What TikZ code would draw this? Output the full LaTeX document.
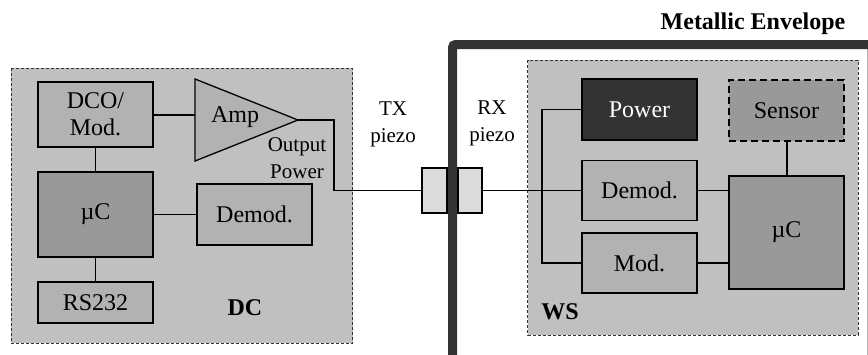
\documentclass[tikz,border=0pt]{standalone}
\usepackage{fontspec}
\setmainfont{Liberation Serif}
\definecolor{bggray}{HTML}{C0C0C0}
\definecolor{boxgray}{HTML}{B2B2B2}
\definecolor{ucgray}{HTML}{999999}
\definecolor{pwgray}{HTML}{333333}
\definecolor{pzgray}{HTML}{DCDCDC}
\tikzset{
  region/.style={draw=black!80, fill=bggray, line width=0.7pt, dash pattern=on 3pt off 2pt},
  blk/.style={draw=black, fill=boxgray, line width=1.3pt, inner sep=0pt, align=center,
    font=\fontsize{24}{27}\selectfont},
  ucblk/.style={blk, fill=ucgray},
  pwblk/.style={blk, fill=pwgray, text=white},
  snblk/.style={blk, fill=ucgray, dash pattern=on 7pt off 4pt},
  piezo/.style={draw=black, fill=pzgray, line width=1.3pt, minimum width=25pt, minimum height=45pt, inner sep=0pt},
  wire/.style={draw=black, line width=1.3pt},
  lbl/.style={font=\fontsize{21}{27}\selectfont, align=center, inner sep=0pt},
  boldlbl/.style={font=\fontsize{24}{27}\selectfont\bfseries, inner sep=0pt},
  envelope/.style={draw=pwgray, line width=9pt, rounded corners=3pt}
}
\begin{document}
\begin{tikzpicture}[x=1pt,y=-1pt]
\useasboundingbox (0,0) rectangle (868,354);
\clip (0,0) rectangle (868,354);
% metallic envelope
\draw[envelope] (452.5,360) -- (452.5,44.5) -- (872,44.5) -- (872,360);
\node[boldlbl] (envlbl) at (753,24) {Metallic Envelope};
% DC region
\path[region] (11,68.3) rectangle (352.7,343.3);
\node[boldlbl] (dclbl) at (245,308) {DC};
\node[blk, minimum width=115pt, minimum height=65pt] (dco) at (95.5,114.5) {DCO/\\Mod.};
\node[ucblk, minimum width=115pt, minimum height=85pt] (ucl) at (95.5,214.5) {µC};
\node[blk, minimum width=115pt, minimum height=41pt] (rs) at (95.5,302.5) {RS232};
\node[blk, minimum width=115pt, minimum height=61pt] (demodl) at (254.5,214.5) {Demod.};
\coordinate (ampin) at (195,115);
\coordinate (amptip) at (298,120);
\draw[blk] (195,79) -- (amptip) -- (195,161) -- cycle;
\node[blk, draw=none, fill=none] (amp) at (235,117) {Amp};
\node[lbl] (outp) at (297,158.5) {Output\\Power};
% DC wires
\draw[wire] (dco.east |- ampin) -- (ampin);
\draw[wire] (dco) -- (ucl);
\draw[wire] (ucl) -- (rs);
\draw[wire] (ucl) -- (demodl);
% piezos
\node[piezo] (tx) at (434.5,190.5) {};
\node[piezo, minimum width=24pt] (rx) at (470,190.5) {};
\node[lbl] (txl) at (393,124) {TX\\piezo};
\node[lbl] (rxl) at (492,123) {RX\\piezo};
\draw[wire] (amptip) -- (334,120) -- (334,190.5) -- (tx.west);
% WS region
\path[region] (527.7,60) rectangle (858,335);
\node[boldlbl] (wslbl) at (560,312) {WS};
\node[pwblk, minimum width=115pt, minimum height=61pt] (pw) at (639.5,109.5) {Power};
\node[snblk, minimum width=115pt, minimum height=61pt] (sn) at (786.5,110.5) {Sensor};
\node[blk, minimum width=115pt, minimum height=60pt] (demodr) at (639.5,190.5) {Demod.};
\node[blk, minimum width=115pt, minimum height=60pt] (mod) at (639.5,263) {Mod.};
\node[ucblk, minimum width=115pt, minimum height=113pt] (ucr) at (786.5,232.5) {µC};
\coordinate (bustop) at (542,109.5);
\coordinate (busbot) at (542,263);
\draw[wire] (rx.east) -- (demodr.west);
\draw[wire] (pw.west) -- (bustop) -- (busbot) -- (mod.west);
\draw[wire] (demodr.east) -- (demodr.east -| ucr.west);
\draw[wire] (mod.east) -- (mod.east -| ucr.west);
\draw[wire] (sn.south -| 787,0) -- (ucr.north -| 787,0);
\end{tikzpicture}
\end{document}
